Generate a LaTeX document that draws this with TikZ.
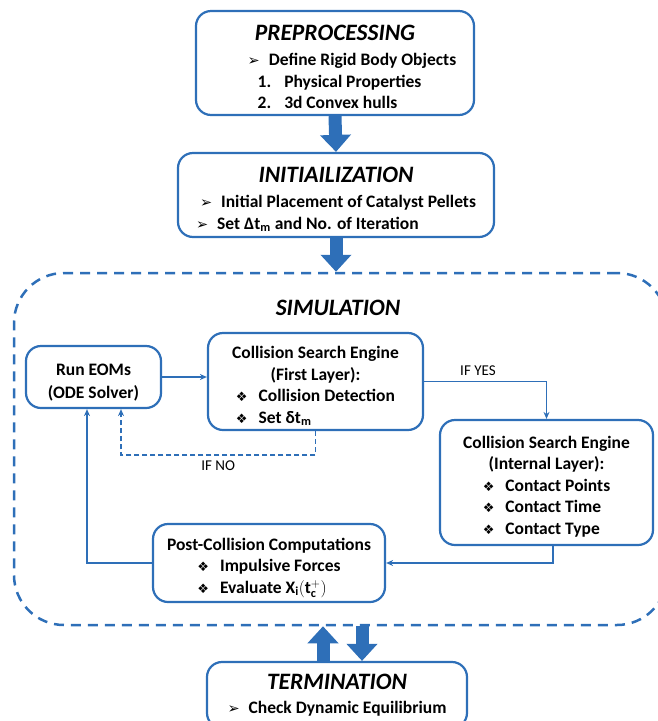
\documentclass[tikz,border=0pt]{standalone}
\usepackage{fontspec}
\setmainfont{Carlito}
\newfontfamily\dingfont{DejaVu Sans}
\usetikzlibrary{arrows.meta}

\definecolor{flowblue}{RGB}{46,111,184}

\newcommand{\arrbul}{{\dingfont\fontsize{14.5}{14}\selectfont ➢}\hspace{9pt}}
\newcommand{\diabul}{{\dingfont\fontsize{13}{14}\selectfont ❖}\hspace{11pt}}
\newcommand{\boxtitle}[1]{{\fontsize{23.5}{26}\selectfont\itshape #1}}
\newcommand{\lift}[1]{\rule{0pt}{#1}}

\begin{document}
\begin{tikzpicture}[x=1pt, y=-1pt,
    box/.style={draw=flowblue, line width=2.2pt, rounded corners=15pt, align=center,
      inner sep=0pt, font=\fontsize{17.5}{21.5}\selectfont\bfseries},
    simframe/.style={draw=flowblue, line width=2.5pt, dash pattern=on 10pt off 7pt,
      rounded corners=50pt, inner sep=0pt},
    title/.style={font=\fontsize{23.5}{26}\selectfont\bfseries\itshape},
    tag/.style={font=\fontsize{15}{17}\selectfont},
    link/.style={draw=flowblue, line width=1.5pt, -{Stealth[length=7pt,width=6pt]}},
    bigarrow/.style={draw=flowblue, line width=13pt, -{Triangle[length=17pt,width=30pt]}}]
  \useasboundingbox (0,0) rectangle (658,721);
  \clip (0,0) rectangle (658,721);

  % outer stages
  \node[box, minimum width=278pt, minimum height=102pt] (pre) at (335,63)
    {\lift{29pt}\boxtitle{PREPROCESSING}\\[4pt]
     \hspace{34pt}\begin{tabular}[t]{@{}l@{}}
       \arrbul Define Rigid Body Objects\\
       \hspace{10pt}1.\hspace{13pt}Physical Properties\\
       \hspace{10pt}2.\hspace{13pt}3d Convex hulls
     \end{tabular}};
  \node[box, minimum width=316pt, minimum height=84pt] (init) at (336,195)
    {\lift{28pt}\boxtitle{INITIAILIZATION}\\[4pt]
     \begin{tabular}[t]{@{}l@{}}
       \hspace{4pt}\arrbul Initial Placement of Catalyst Pellets\\
       \arrbul Set Δt\textsubscript{m} and No. of Iteration
     \end{tabular}};
  \node[simframe, minimum width=653pt, minimum height=352pt] (sim) at (340.5,449) {};
  \node[title] (simtitle) at (338,308) {SIMULATION};
  \node[box, minimum width=260pt, minimum height=66pt] (term) at (337,695)
    {\boxtitle{TERMINATION}\\[2pt]
     \arrbul Check Dynamic Equilibrium};

  % simulation loop
  \node[box, minimum width=135pt, minimum height=62pt] (run) at (93.5,377)
    {\lift{23pt}Run EOMs\\[1pt] (ODE Solver)};
  \node[box, minimum width=215pt, minimum height=97pt] (cse1) at (315.5,381.5)
    {\lift{25pt}Collision Search Engine\\ (First Layer):\\
     \begin{tabular}[t]{@{}l@{}}
       \diabul Collision Detection\\
       \diabul Set δt\textsubscript{m}
     \end{tabular}};
  \node[box, minimum width=213pt, minimum height=125pt] (cse2) at (546.5,482.5)
    {\lift{24pt}Collision Search Engine\\ (Internal Layer):\\
     \begin{tabular}[t]{@{}l@{}}
       \diabul Contact Points\\
       \diabul Contact Time\\
       \diabul Contact Type
     \end{tabular}};
  \node[box, minimum width=232pt, minimum height=78pt] (post) at (269,563)
    {\lift{24pt}Post-Collision Computations\\
     \begin{tabular}[t]{@{}l@{}}
       \diabul Impulsive Forces\\
       \diabul Evaluate $\mathbf{X}_{\mathbf{i}}(\mathbf{t}_{\mathbf{c}}^{+})$
     \end{tabular}};

  \coordinate (ifno) at (121,455);

  % block arrows
  \draw[bigarrow] (pre.south) -- (init.north);
  \draw[bigarrow] (init.south) -- (init.south |- sim.north);
  \draw[bigarrow] ([xshift=-14pt]term.north) -- ([xshift=-14pt]term.north |- sim.south);
  \draw[bigarrow] ([xshift=25pt]term.north |- sim.south) -- ([xshift=25pt]term.north);

  % connectors
  \draw[link] (run.east) -- (run.east -| cse1.west);
  \draw[link] (cse1.east) -| node[tag, pos=0.22, above=2pt] (ifyes) {IF YES} (cse2.north);
  \draw[link, dash pattern=on 5pt off 3pt] (cse1.south) |- node[tag, pos=0.75, below=2pt] (ifnotag) {IF NO} (ifno)
    -- (ifno |- run.south);
  \draw[link] ([xshift=6.5pt]cse2.south) |- (post.east);
  \draw[link] (post.west) -| ([xshift=-6.5pt]run.south);
\end{tikzpicture}
\end{document}
